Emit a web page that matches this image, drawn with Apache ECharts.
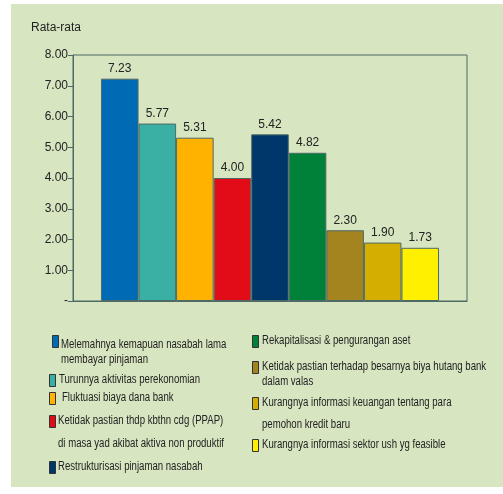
<!DOCTYPE html>
<html>
<head>
<meta charset="utf-8">
<script src="https://cdn.jsdelivr.net/npm/echarts@6/dist/echarts.min.js"></script>
<style>
  html, body { margin: 0; padding: 0; background: #fff; }
  #chart { width: 503px; height: 494px; }
</style>
</head>
<body>
<div id="chart"></div>
<script>
var names = [
  'Melemahnya kemapuan nasabah lama membayar pinjaman',
  'Turunnya aktivitas perekonomian',
  'Fluktuasi biaya dana bank',
  'Ketidak pastian thdp kbthn cdg (PPAP) di masa yad akibat aktiva non produktif',
  'Restrukturisasi pinjaman nasabah',
  'Rekapitalisasi & pengurangan aset',
  'Ketidak pastian terhadap besarnya biya hutang bank dalam valas',
  'Kurangnya informasi keuangan tentang para pemohon kredit baru',
  'Kurangnya informasi sektor ush yg feasible'
]
var legendLines = [
  ['Melemahnya kemapuan nasabah lama', 'membayar pinjaman'],
  ['Turunnya aktivitas perekonomian'],
  ['Fluktuasi biaya dana bank'],
  ['Ketidak pastian thdp kbthn cdg (PPAP)', 'di masa yad akibat aktiva non produktif'],
  ['Restrukturisasi pinjaman nasabah'],
  ['Rekapitalisasi & pengurangan aset'],
  ['Ketidak pastian terhadap besarnya biya hutang bank', 'dalam valas'],
  ['Kurangnya informasi keuangan tentang para', 'pemohon kredit baru'],
  ['Kurangnya informasi sektor ush yg feasible']
]
var values = [7.23, 5.77, 5.31, 4.00, 5.42, 4.82, 2.30, 1.90, 1.73]
var colors = ['#006ab4', '#3aafa4', '#ffb300', '#e20b18', '#00376a', '#00813a', '#a3841f', '#d4ae00', '#fff000']
var categories = ['']

// legend icon placement: [left, center y]
var iconPos = [
  [52, 341], [49, 380], [49, 398], [49, 421], [49, 467],
  [252, 341], [252, 367], [252, 403], [252, 445]
]
// legend text placement: [left, first line y, line spacing]
var textPos = [
  [61, 345, 15], [59, 380, 0], [62, 398, 0], [58, 421, 23], [58, 467, 0],
  [262, 341, 0], [262, 367, 15], [262, 403, 22], [262, 445, 0]
]

var textColor = '#222'
var frameColor = '#4e6a66'
var baseFont = 'Liberation Sans, Arial, sans-serif'
var iconW = 6, iconH = 12

var series = names.map(function (n, i) {
  return {
    name: n,
    type: 'bar',
    data: [values[i]],
    barGap: '0%',
    barCategoryGap: '14.2%',
    itemStyle: { color: colors[i], borderColor: frameColor, borderWidth: 1 },
    label: {
      show: true,
      position: 'top',
      distance: 4,
      color: textColor,
      fontSize: 12,
      fontFamily: baseFont,
      formatter: function (p) { return p.value.toFixed(2) }
    }
  }
})

// icons come from the legend, the condensed text is drawn beside them
var legends = names.map(function (n, i) {
  return {
    data: [n],
    left: iconPos[i][0],
    top: iconPos[i][1] - iconH / 2,
    padding: 0,
    icon: 'rect',
    itemWidth: iconW,
    itemHeight: iconH,
    selectedMode: false,
    itemStyle: { borderColor: '#333', borderWidth: 1 },
    textStyle: { fontSize: 10, lineHeight: iconH, color: 'transparent' },
    formatter: function () { return ' ' }
  }
})

var legendTexts = []
legendLines.forEach(function (lines, i) {
  lines.forEach(function (t, j) {
    legendTexts.push({
      type: 'text',
      silent: true,
      x: textPos[i][0],
      y: textPos[i][1] + j * textPos[i][2],
      scaleX: 0.8,
      style: {
        text: t,
        fill: textColor,
        font: '12px ' + baseFont,
        verticalAlign: 'middle'
      }
    })
  })
})

var dom = document.getElementById('chart')
var myChart = echarts.init(dom, null, { renderer: 'canvas' })
var option = {
  animation: false,
  backgroundColor: '#fff',
  graphic: [{
    type: 'rect',
    z: -100,
    silent: true,
    shape: { x: 11, y: 4, width: 492, height: 483 },
    style: { fill: '#d7e5c0' }
  }].concat(legendTexts),
  title: {
    text: 'Rata-rata',
    left: 31,
    top: 22,
    padding: 0,
    textStyle: { fontSize: 12, fontWeight: 'normal', color: textColor, fontFamily: baseFont }
  },
  grid: {
    left: 73,
    right: 36,
    top: 55,
    bottom: 193,
    show: true,
    borderColor: frameColor,
    borderWidth: 1,
    backgroundColor: 'transparent'
  },
  xAxis: {
    type: 'category',
    data: categories,
    axisLine: { show: true, lineStyle: { color: frameColor } },
    axisTick: { show: false },
    axisLabel: { show: false }
  },
  yAxis: {
    type: 'value',
    min: 0,
    max: 8,
    interval: 1,
    splitLine: { show: false },
    axisLine: { show: true, lineStyle: { color: frameColor } },
    axisTick: { show: true, length: 5, lineStyle: { color: frameColor } },
    axisLabel: {
      margin: 5,
      color: textColor,
      fontSize: 12,
      fontFamily: baseFont,
      formatter: function (v) { return v === 0 ? '-' : v.toFixed(2) }
    }
  },
  legend: legends,
  series: series
}
if (option && typeof option === 'object') {
  myChart.setOption(option, true)
}
</script>
</body>
</html>
